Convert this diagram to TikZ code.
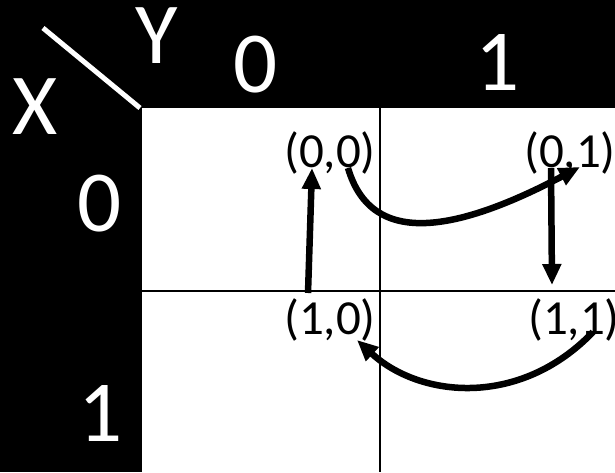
\documentclass[tikz,border=0pt]{standalone}
\usepackage{fontspec}
\setmainfont{Carlito}
\usetikzlibrary{arrows.meta}

\tikzset{
  big/.style={text=white,inner sep=0pt,font=\fontsize{87}{87}\selectfont},
  pair/.style={inner sep=0pt,font=\fontsize{49}{49}\selectfont},
  move/.style={line width=6.5pt,-{Triangle[length=21pt,width=18pt]}},
}

\begin{document}
\begin{tikzpicture}[x=1pt,y=-1pt]
  \useasboundingbox (0,0) rectangle (615,472);

  % sfondo e tabella
  \fill[black] (0,0) rectangle (615,472);
  \fill[white] (142,108) rectangle (615,472);
  \draw[line width=2pt] (380,108) -- (380,472);
  \draw[line width=2pt] (142,291) -- (615,291);
  \draw[white,line width=5pt] (43,28) -- (140,108);

  % intestazioni
  \node[big] (X) at (35,107) {X};
  \node[big] (Y) at (157,36) {Y};
  \node[big] (c0) at (256,65) {0};
  \node[big] (c1) at (498,63) {1};
  \node[big] (r0) at (100,204) {0};
  \node[big] (r1) at (101,413) {1};

  % stati
  \node[pair] (n00) at (330,153) {(0,0)};
  \node[pair] (n01) at (570,153) {(0,1)};
  \node[pair] (n10) at (330,320) {(1,0)};
  \node[pair] (n11) at (574,320) {(1,1)};

  % frecce
  \draw[move] ([shift={(-22,-27)}]n10.center) -- ([shift={(-18,15)}]n00.center);
  \draw[move] ([shift={(18,15)}]n00.center)
    .. controls (372,250) and (460,230) .. ([shift={(10,14)}]n01.center);
  \draw[move] ([shift={(-19,15)}]n01.center) -- ([shift={(-22,-35)}]n11.center);
  \draw[move] ([shift={(19,12)}]n11.center)
    .. controls (520,408) and (420,398) .. ([shift={(27,20)}]n10.center);
\end{tikzpicture}
\end{document}
